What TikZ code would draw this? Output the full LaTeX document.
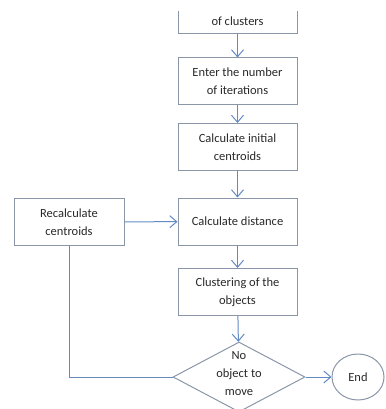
\documentclass[tikz,border=0pt]{standalone}
\usepackage{fontspec}
\setmainfont{Carlito}
\usetikzlibrary{shapes.geometric,arrows.meta}
\definecolor{framegray}{RGB}{138,150,168}
\definecolor{flowblue}{RGB}{98,138,196}
\definecolor{inkgray}{RGB}{40,40,40}
\begin{document}
\begin{tikzpicture}[x=1pt,y=-1pt,
  font=\fontsize{12.5}{18}\selectfont,text=inkgray,
  stepbox/.style={draw=framegray,line width=1pt,minimum width=119pt,minimum height=47pt,align=center,inner sep=0pt},
  flow/.style={draw=flowblue,line width=1pt,-{Straight Barb[length=7pt,width=12pt]}},
  loopline/.style={draw=flowblue!80!gray,line width=1pt}]
\useasboundingbox (0,0) rectangle (385,409);

\node (clusters) at (237.5,21) {of clusters};
\draw[framegray,line width=1pt] (178,11) -- (178,34) -- (297,34) -- (297,11);
\coordinate (clustersout) at (237.5,34);

\node[stepbox] (iter) at (237.5,81.5) {Enter the number\\of iterations};
\node[stepbox] (init) at (237.5,147) {Calculate initial\\centroids};
\node[stepbox] (dist) at (237.5,221.5) {Calculate distance};
\node[stepbox] (group) at (237.5,292) {Clustering of the\\objects};
\node[stepbox,minimum width=110pt] (recalc) at (69,222) {Recalculate\\centroids};

\node[diamond,draw=framegray,line width=1pt,minimum width=132pt,minimum height=70pt,inner sep=0pt] (moved) at (239,377)
  {\smash{\begin{tabular}{@{}c@{}}No\\object to\\move\end{tabular}}};
\node[ellipse,draw=framegray,line width=1pt,minimum width=52pt,minimum height=46pt,inner sep=0pt] (finish) at (358,377) {End};

\draw[flow] (clustersout) -- (iter);
\draw[flow] (iter) -- (init);
\draw[flow] (init) -- (dist);
\draw[flow] (dist) -- (group);
\draw[flow] (group) -- (moved);
\draw[flow] (recalc) -- (dist);
\draw[flow] (moved) -- (finish);
\draw[loopline] (moved.west) -- (recalc.south |- moved.west) -- (recalc.south);
\end{tikzpicture}
\end{document}
